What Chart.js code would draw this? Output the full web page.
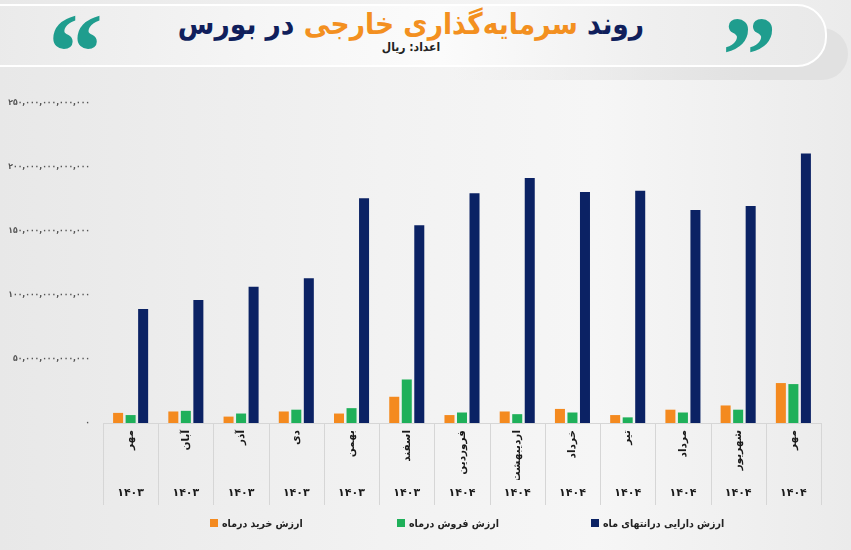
<!DOCTYPE html>
<html lang="fa">
<head>
<meta charset="utf-8">
<script src="https://cdn.jsdelivr.net/npm/chart.js@4.4.1/dist/chart.umd.min.js"></script>
<style>
  html, body { margin:0; padding:0; }
  body {
    width:851px; height:550px; overflow:hidden; position:relative;
    background: linear-gradient(90deg, #e8e8e8 0%, #f2f2f2 45%, #f6f6f6 70%, #ebebeb 100%);
    font-family: "DejaVu Sans", sans-serif;
  }
  #banner2 {
    position:absolute; left:-30px; top:28px; width:878px; height:52px;
    border-radius:30px;
    background: linear-gradient(90deg, rgba(225,225,225,0) 0%, rgba(225,225,225,0) 55%, #e1e1e1 90%);
  }
  #banner {
    position:absolute; left:-30px; top:4px; width:853px; height:59px;
    border-radius:30px;
    background: linear-gradient(90deg, #e9e9e9 0%, #f6f6f6 35%, #fbfbfb 55%, #efefef 80%, #e9e9e9 100%);
    border:2px solid #ffffff;
  }
  .quote {
    position:absolute; color:#1f9d8e; font-family:"Liberation Serif", serif;
    font-weight:bold; font-size:110px; line-height:110px;
  }
  #qL { left:48px; top:-3px; }
  #qR { left:722px; top:0px; }
  #title {
    position:absolute; left:0; width:822px; top:7px; text-align:center;
    direction:rtl; font-weight:bold; font-size:29.5px; line-height:34px; color:#101f5c;
    font-family:"DejaVu Sans Condensed", "DejaVu Sans", sans-serif; white-space:nowrap;
  }
  #title .hl { color:#f39020; }
  #sub {
    position:absolute; left:0; width:822px; top:39px; text-align:center;
    direction:rtl; font-weight:bold; font-size:12px; line-height:16px; color:#222;
    font-family:"DejaVu Sans Condensed", "DejaVu Sans", sans-serif;
  }
  #wrap { position:absolute; left:0; top:0; width:851px; height:550px; }
  #legend { position:absolute; left:0; top:0; width:851px; height:550px; pointer-events:none; }
  .lg { position:absolute; top:515px; height:16px; display:flex; align-items:center; direction:ltr; }
  .lg .box { width:8px; height:8px; margin-right:4px; }
  .lg .txt { direction:rtl; font-weight:bold; font-size:10.5px; color:#222; white-space:nowrap;
             font-family:"DejaVu Sans Condensed", "DejaVu Sans", sans-serif; }
</style>
</head>
<body>
<div id="banner2"></div>
<div id="banner"></div>
<div class="quote" id="qL">“</div>
<div class="quote" id="qR">”</div>
<div id="title">روند <span class="hl">سرمایه‌گذاری خارجی</span> در بورس</div>
<div id="sub">اعداد: ریال</div>
<div id="wrap"><canvas id="c" width="851" height="550"></canvas></div>
<div id="legend"></div>
<script>
// ---- data (rial) ----
const months = ["مهر","آبان","آذر","دی","بهمن","اسفند","فروردین","اردیبهشت","خرداد","تیر","مرداد","شهریور","مهر"];
const years  = ["۱۴۰۳","۱۴۰۳","۱۴۰۳","۱۴۰۳","۱۴۰۳","۱۴۰۳","۱۴۰۴","۱۴۰۴","۱۴۰۴","۱۴۰۴","۱۴۰۴","۱۴۰۴","۱۴۰۴"];
const buyValues    = [7.9e12, 9.0e12, 5.0e12, 9.0e12, 7.4e12, 20.5e12, 6.2e12, 9.0e12, 11.0e12, 6.2e12, 10.4e12, 13.7e12, 31.2e12];
const sellValues   = [6.2e12, 9.5e12, 7.4e12, 10.4e12, 11.6e12, 34.0e12, 8.2e12, 6.9e12, 8.2e12, 4.4e12, 8.2e12, 10.4e12, 30.4e12];
const assetValues  = [89e12, 96e12, 106.5e12, 113e12, 175.5e12, 154.5e12, 179.5e12, 191.5e12, 180.5e12, 181.5e12, 166.5e12, 169.5e12, 210.5e12];
const seriesNames  = ["ارزش خرید درماه","ارزش فروش درماه","ارزش دارایی درانتهای ماه"];
const seriesColors = ["#f48a1f","#1fb05a","#0b2264"];
const yTickMax = 250e12;
const yTickStep = 50e12;

const faDigits = s => String(s).replace(/[0-9]/g, d => "۰۱۲۳۴۵۶۷۸۹"[d]);

const cellLines = {
  id:'cellLines',
  afterDraw(chart){
    const x = chart.scales.x, x2 = chart.scales.x2, ctx = chart.ctx;
    const n = x.ticks.length;
    const step = x.width / n;
    ctx.save();
    ctx.strokeStyle = '#d6d6d6';
    ctx.lineWidth = 1;
    for (let i = 0; i <= n; i++) {
      const px = Math.round(x.left + i*step) + 0.5;
      ctx.beginPath(); ctx.moveTo(px, x.top); ctx.lineTo(px, x2.bottom); ctx.stroke();
    }
    ctx.beginPath(); ctx.moveTo(x.left, Math.round(x.top)+0.5); ctx.lineTo(x.right, Math.round(x.top)+0.5); ctx.stroke();
    ctx.restore();
  }
};

new Chart(document.getElementById('c'), {
  type:'bar',
  data:{
    labels: months,
    datasets:[
      {label:seriesNames[0], data:buyValues,   backgroundColor:seriesColors[0]},
      {label:seriesNames[1], data:sellValues,  backgroundColor:seriesColors[1]},
      {label:seriesNames[2], data:assetValues, backgroundColor:seriesColors[2]}
    ]
  },
  options:{
    responsive:false, animation:false,
    devicePixelRatio:1,
    layout:{ padding:{ top:103, right:30, bottom:45, left:0 } },
    datasets:{ bar:{ categoryPercentage:0.68, barPercentage:0.8, borderWidth:0 } },
    plugins:{ legend:{ display:false }, tooltip:{ enabled:false } },
    scales:{
      y:{
        min:0, max:yTickMax,
        afterFit(s){ s.width = 103; },
        grid:{ display:false, drawTicks:false },
        border:{ display:false },
        ticks:{
          stepSize:yTickStep, padding:13, color:'#555',
          font:{ family:'DejaVu Sans Condensed', size:8.5, weight:'bold' },
          callback:v => faDigits(Number(v).toLocaleString('en-US'))
        }
      },
      x:{
        position:'bottom',
        afterFit(s){ s.height = 57; },
        grid:{ display:false, drawTicks:false },
        border:{ display:false },
        ticks:{ minRotation:90, maxRotation:90, autoSkip:false, padding:7, color:'#1a1a1a',
                font:{ family:'DejaVu Sans', size:10.5, weight:'bold' } }
      },
      x2:{
        type:'category', position:'bottom', labels:years, offset:true,
        afterFit(s){ s.height = 25; },
        grid:{ display:false, drawTicks:false },
        border:{ display:false },
        ticks:{ autoSkip:false, maxRotation:0, padding:7, color:'#1a1a1a',
                font:{ family:'DejaVu Sans', size:11, weight:'bold' } }
      }
    }
  },
  plugins:[cellLines]
});

// HTML legend built from the series arrays
const lgPos = [210, 397, 591];
const lg = document.getElementById('legend');
seriesNames.forEach((name,i) => {
  const d = document.createElement('div');
  d.className = 'lg'; d.style.left = lgPos[i] + 'px';
  d.innerHTML = '<span class="box" style="background:'+seriesColors[i]+'"></span><span class="txt">'+name+'</span>';
  lg.appendChild(d);
});
</script>
</body>
</html>
